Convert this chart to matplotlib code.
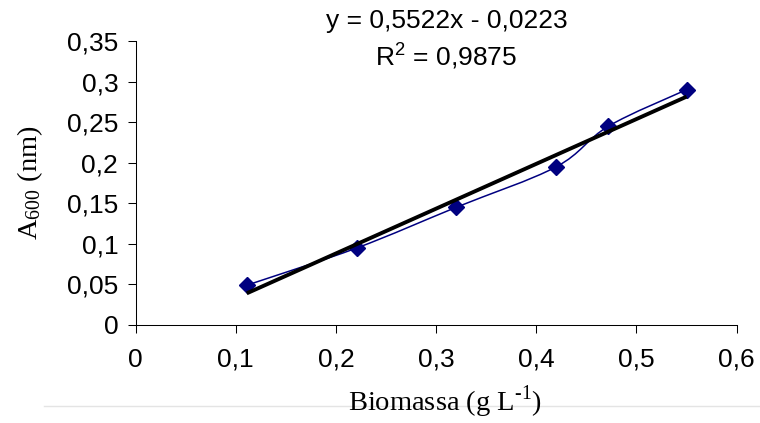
import numpy as np
import matplotlib
matplotlib.use('Agg')
import matplotlib.pyplot as plt
from matplotlib.path import Path
from matplotlib.patches import PathPatch
from matplotlib.lines import Line2D

# dados
biomassa = [0.111, 0.221, 0.320, 0.420, 0.472, 0.550]
absorbancia = [0.049, 0.095, 0.145, 0.195, 0.245, 0.290]

# linha de tendência (Excel)
slope = 0.5522
intercept = -0.0223

x_ticks = [0, 0.1, 0.2, 0.3, 0.4, 0.5, 0.6]
x_labels = ['0', '0,1', '0,2', '0,3', '0,4', '0,5', '0,6']
y_ticks = [0, 0.05, 0.1, 0.15, 0.2, 0.25, 0.3, 0.35]
y_labels = ['0', '0,05', '0,1', '0,15', '0,2', '0,25', '0,3', '0,35']

plt.rcParams['font.family'] = 'Liberation Sans'
plt.rcParams['mathtext.fontset'] = 'custom'
plt.rcParams['mathtext.rm'] = 'Liberation Serif'
plt.rcParams['mathtext.sf'] = 'Liberation Sans'

point_color = '#000080'
tick_size = 19
label_size = 20.5

fig = plt.figure(figsize=(7.6, 4.23), dpi=100)
ax = fig.add_axes([0.1783, 0.2317, 0.791, 0.6714])

# linha suavizada como no Excel: curvas de Bezier tipo Catmull-Rom
pts = np.column_stack([biomassa, absorbancia])
ext = np.vstack([pts[0], pts, pts[-1]])
verts = [tuple(pts[0])]
codes = [Path.MOVETO]
for i in range(len(pts) - 1):
    p0, p1, p2, p3 = ext[i], ext[i + 1], ext[i + 2], ext[i + 3]
    c1 = p1 + (p2 - p0) / 6
    c2 = p2 - (p3 - p1) / 6
    verts += [tuple(c1), tuple(c2), tuple(p2)]
    codes += [Path.CURVE4] * 3
ax.add_patch(PathPatch(Path(verts, codes), facecolor='none',
                       edgecolor=point_color, lw=1.1, zorder=2))

ax.plot(biomassa, absorbancia, ls='none', marker='D', ms=8.5,
        color=point_color, zorder=3)

# reta de regressão do primeiro ao último ponto
xt = np.array([biomassa[0], biomassa[-1]])
ax.plot(xt, slope * xt + intercept, color='black', lw=2.8, zorder=4,
        solid_capstyle='butt')

ax.set_xlim(0, 0.6)
ax.set_ylim(0, 0.35)
ax.set_xticks(x_ticks)
ax.set_xticklabels(x_labels)
ax.set_yticks(y_ticks)
ax.set_yticklabels(y_labels)
ax.tick_params(axis='both', direction='out', length=5.5, width=0.75,
               labelsize=tick_size)
ax.tick_params(axis='x', pad=11)
ax.tick_params(axis='y', pad=7)

for side in ['top', 'right']:
    ax.spines[side].set_visible(False)
for side in ['left', 'bottom']:
    ax.spines[side].set_linewidth(0.75)

ax.set_xlabel(r'Biomassa (g L$^{\text{-1}}$)', family='Liberation Serif',
              fontsize=label_size)
ax.xaxis.set_label_coords(0.515, -0.205)
ax.set_ylabel(r'$\mathrm{A_{600}}$ (nm)', family='Liberation Serif',
              fontsize=label_size)
ax.yaxis.set_label_coords(-0.15, 0.5)

# equação da reta e R²
fig.text(447 / 760, 1 - 21 / 423, 'y = 0,5522x - 0,0223', ha='center',
         va='center', fontsize=tick_size)
fig.text(446 / 760, 1 - 56 / 423, r'R$^{\mathsf{2}}$ = 0,9875', ha='center',
         va='center', fontsize=tick_size)

# borda cinza clara da área do gráfico, atrás do texto
fig.add_artist(Line2D([44 / 760, 1], [1 - 406 / 423] * 2, color='#e4e4e4',
                      lw=1, transform=fig.transFigure, zorder=-1))

fig.savefig('out.png', dpi=100)
